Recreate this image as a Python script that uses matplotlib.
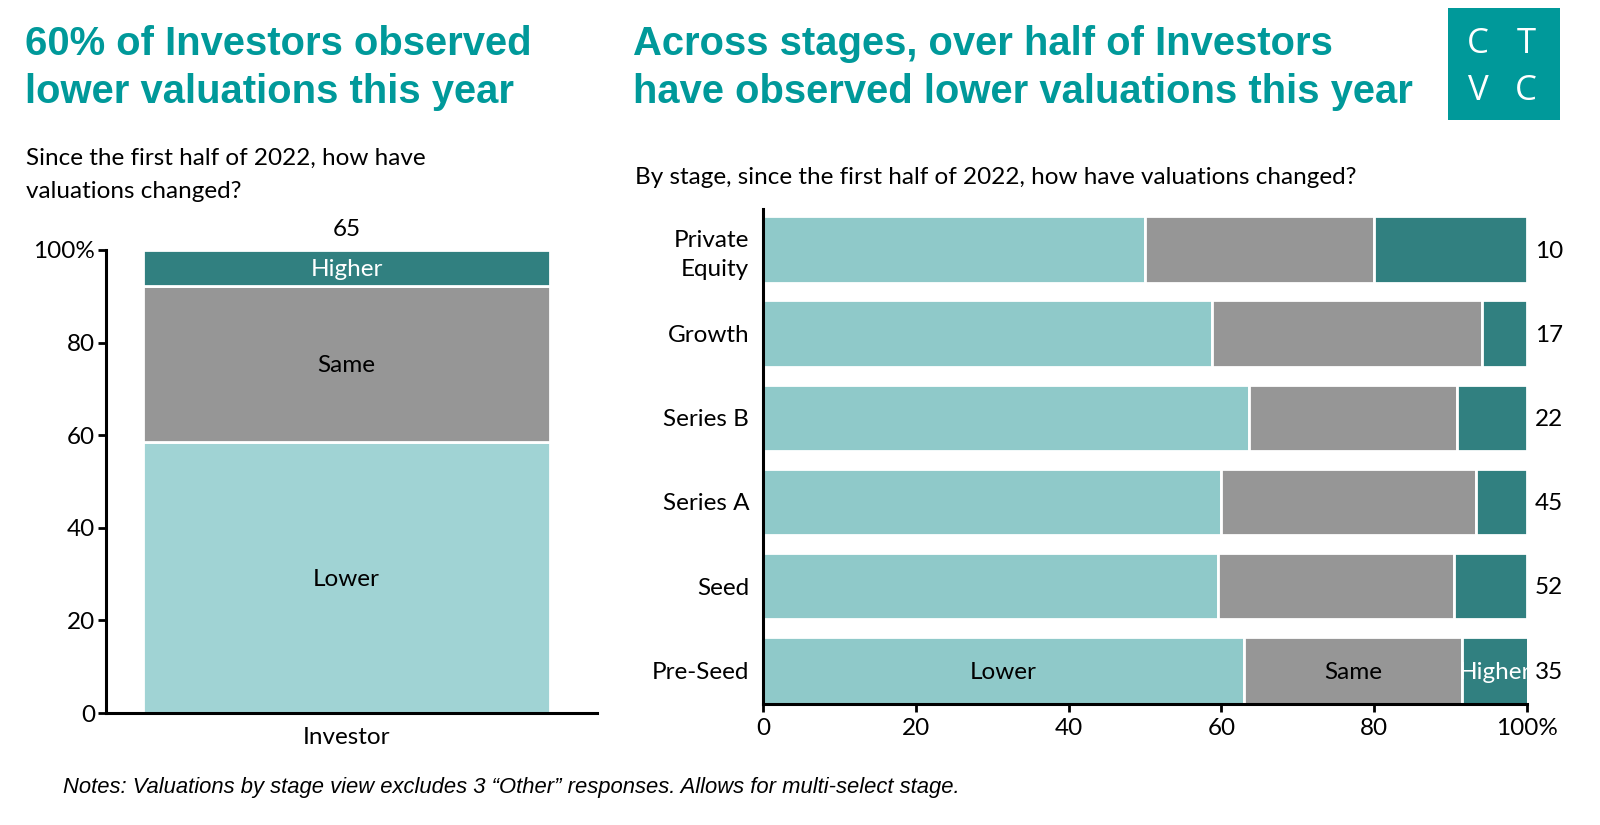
import matplotlib.pyplot as plt
from matplotlib.patches import Rectangle

# overall investor view
investor_n = 65
investor_lower = 58.5
investor_same = 33.8
investor_higher = 7.7

# by stage view (bottom to top)
stages = ["Pre-Seed", "Seed", "Series A", "Series B", "Growth", "Private\nEquity"]
stage_n = [35, 52, 45, 22, 17, 10]
stage_lower = [62.9, 59.6, 60.0, 63.6, 58.8, 50.0]
stage_same = [28.6, 30.8, 33.3, 27.3, 35.3, 30.0]
stage_higher = [8.6, 9.6, 6.7, 9.1, 5.9, 20.0]

TEAL = "#00999a"
LOWER_L = "#a0d3d4"
LOWER_R = "#8fc9c9"
SAME = "#969696"
HIGHER = "#318080"

W, H = 1600, 825
plt.rcParams['font.family'] = ['Lato', 'DejaVu Sans']

fig = plt.figure(figsize=(W / 100, H / 100), dpi=100)


def fx(x):
    return x / W


def fy(y):
    return 1 - y / H


# titles
title_kw = dict(color=TEAL, fontsize=28.8, fontweight='bold', family='Liberation Sans', va='center')
fig.text(fx(25), fy(44), "60% of Investors observed", **title_kw)
fig.text(fx(25), fy(92), "lower valuations this year", **title_kw)
fig.text(fx(633), fy(44), "Across stages, over half of Investors", **title_kw)
fig.text(fx(633), fy(92), "have observed lower valuations this year", **title_kw)

fig.text(fx(26), fy(158), "Since the first half of 2022, how have", fontsize=17.5, va='center')
fig.text(fx(26), fy(191), "valuations changed?", fontsize=17.5, va='center')
fig.text(fx(635), fy(178), "By stage, since the first half of 2022, how have valuations changed?",
         fontsize=17.5, va='center')

fig.text(fx(63), fy(788), "Notes: Valuations by stage view excludes 3 \u201cOther\u201d responses. Allows for multi-select stage.",
         fontsize=15.8, style='italic', family='Liberation Sans', va='center')

# logo
fig.patches.append(Rectangle((fx(1448), fy(120)), fx(112), 112 / H, transform=fig.transFigure,
                             facecolor=TEAL, edgecolor='none'))
logo_kw = dict(color='white', fontsize=25, ha='center', va='center', family='Open Sans')
fig.text(fx(1478), fy(44), "C", **logo_kw)
fig.text(fx(1526), fy(44), "T", **logo_kw)
fig.text(fx(1478), fy(91), "V", **logo_kw)
fig.text(fx(1526), fy(91), "C", **logo_kw)

# left chart
ax1 = fig.add_axes([fx(106), fy(713), fx(597 - 106), (713 - 250) / H])
bw = 0.83
segs = [(investor_lower, LOWER_L, "Lower", 'black'),
        (investor_same, SAME, "Same", 'black'),
        (investor_higher, HIGHER, "Higher", 'white')]
bottom = 0
for val, col, lab, tcol in segs:
    ax1.bar(0, val, bottom=bottom, width=bw, color=col, edgecolor='white', linewidth=2)
    ax1.text(0, bottom + val / 2 - 0.4, lab, ha='center', va='center', color=tcol, fontsize=17.5)
    bottom += val
ax1.text(0, 102.2, str(investor_n), ha='center', va='bottom', fontsize=17.5, clip_on=False)
ax1.set_ylim(0, 100)
ax1.set_xlim(-0.49, 0.51)
ax1.set_yticks([0, 20, 40, 60, 80, 100])
ax1.set_yticklabels(["0", "20", "40", "60", "80", "100%"])
ax1.set_xticks([0])
ax1.set_xticklabels(["Investor"])
ax1.tick_params(axis='x', length=0, labelsize=17.5, pad=10)
ax1.tick_params(axis='y', length=6, width=2, labelsize=17.5, pad=2)
for s in ['top', 'right']:
    ax1.spines[s].set_visible(False)
for s in ['left', 'bottom']:
    ax1.spines[s].set_linewidth(2.2)

# right chart
ax2 = fig.add_axes([fx(763), fy(704), fx(1527 - 763), (704 - 209) / H])
ypos = list(range(len(stages)))
left = [0] * len(stages)
for vals, col in [(stage_lower, LOWER_R), (stage_same, SAME), (stage_higher, HIGHER)]:
    ax2.barh(ypos, vals, left=left, height=0.79, color=col, edgecolor='white', linewidth=2)
    left = [l + v for l, v in zip(left, vals)]
for i, n in enumerate(stage_n):
    ax2.text(101, i - 0.02, str(n), ha='left', va='center', fontsize=17.5, clip_on=False)
# segment labels on the Pre-Seed bar
lab_y = -0.02
ax2.text(stage_lower[0] / 2, lab_y, "Lower", ha='center', va='center', fontsize=17.5)
ax2.text(stage_lower[0] + stage_same[0] / 2, lab_y, "Same", ha='center', va='center', fontsize=17.5)
ax2.text(stage_lower[0] + stage_same[0] + stage_higher[0] / 2, lab_y, "Higher", ha='center', va='center',
         fontsize=17.5, color='white')
ax2.set_xlim(0, 100)
ax2.set_ylim(-0.4, 5.48)
ax2.set_yticks(ypos)
ax2.set_yticklabels(stages, linespacing=1.45)
ax2.set_xticks([0, 20, 40, 60, 80, 100])
ax2.set_xticklabels(["0", "20", "40", "60", "80", "100%"])
ax2.tick_params(axis='y', length=0, labelsize=17.5, pad=10)
ax2.tick_params(axis='x', length=6, width=2, labelsize=17.5, pad=4)
for s in ['top', 'right']:
    ax2.spines[s].set_visible(False)
for s in ['left', 'bottom']:
    ax2.spines[s].set_linewidth(2.2)

fig.savefig("out.png", dpi=100)
